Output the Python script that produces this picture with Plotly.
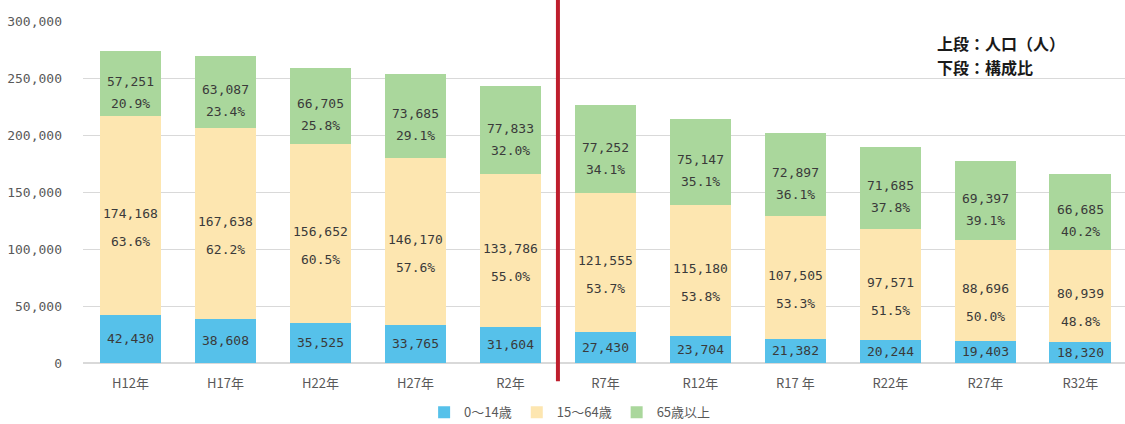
import plotly.graph_objects as go

categories = ["H12年", "H17年", "H22年", "H27年", "R2年", "R7年", "R12年", "R17 年", "R22年", "R27年", "R32年"]
age_0_14 = [42430, 38608, 35525, 33765, 31604, 27430, 23704, 21382, 20244, 19403, 18320]
age_15_64 = [174168, 167638, 156652, 146170, 133786, 121555, 115180, 107505, 97571, 88696, 80939]
age_65_plus = [57251, 63087, 66705, 73685, 77833, 77252, 75147, 72897, 71685, 69397, 66685]
pct_15_64 = ["63.6%", "62.2%", "60.5%", "57.6%", "55.0%", "53.7%", "53.8%", "53.3%", "51.5%", "50.0%", "48.8%"]
pct_65_plus = ["20.9%", "23.4%", "25.8%", "29.1%", "32.0%", "34.1%", "35.1%", "36.1%", "37.8%", "39.1%", "40.2%"]
series_names = ["0～14歳", "15～64歳", "65歳以上"]
colors = ["#56C1EA", "#FDE6B0", "#AAD79C"]

LABEL_FONT = dict(family="DejaVu Sans Mono", size=13, color="#3a3a3a")
CJK = "Noto Sans CJK JP"


def fmt(v):
    return f"{v:,}"


fig = go.Figure()
for vals, name, col in zip([age_0_14, age_15_64, age_65_plus], series_names, colors):
    fig.add_trace(go.Bar(x=categories, y=vals, name=name, marker_color=col,
                         marker_line_width=0, hoverinfo="skip"))

# segment labels placed through the data axes
for i, cat in enumerate(categories):
    b1 = age_0_14[i]
    b2 = b1 + age_15_64[i]
    b3 = b2 + age_65_plus[i]
    fig.add_annotation(x=cat, y=b1 / 2, text=fmt(age_0_14[i]), showarrow=False, font=LABEL_FONT)
    fig.add_annotation(x=cat, y=(b1 + b2) / 2, text=fmt(age_15_64[i]), showarrow=False,
                       font=LABEL_FONT, yshift=2)
    fig.add_annotation(x=cat, y=(b1 + b2) / 2, text=pct_15_64[i], showarrow=False,
                       font=LABEL_FONT, yshift=-26)
    fig.add_annotation(x=cat, y=(b2 + b3) / 2, text=fmt(age_65_plus[i]), showarrow=False,
                       font=LABEL_FONT, yshift=2)
    fig.add_annotation(x=cat, y=(b2 + b3) / 2, text=pct_65_plus[i], showarrow=False,
                       font=LABEL_FONT, yshift=-20)

fig.add_shape(type="line", xref="x", yref="paper", x0=4.5, x1=4.5, y0=-0.053, y1=1.065,
              line=dict(color="#BE1E2D", width=4))

note_font = dict(family=CJK, size=16, color="#1a1a1a")
fig.add_annotation(xref="paper", yref="paper", x=0.818, y=0.936, xanchor="left", yanchor="middle",
                   text="<b>上段：人口（人）</b>", showarrow=False, font=note_font)
fig.add_annotation(xref="paper", yref="paper", x=0.818, y=0.865, xanchor="left", yanchor="middle",
                   text="<b>下段：構成比</b>", showarrow=False, font=note_font)

fig.update_layout(
    barmode="stack", bargap=0.35, width=1125, height=424,
    margin=dict(l=83, r=0, t=21, b=61, autoexpand=False),
    plot_bgcolor="white", paper_bgcolor="white",
    font=dict(family=CJK, size=13, color="#595959"),
    showlegend=True,
    legend=dict(orientation="h", x=0.467, xanchor="center", y=-0.1, yanchor="top",
                font=dict(family=CJK, size=13, color="#595959"),
                itemwidth=30, traceorder="normal"),
    xaxis=dict(showgrid=False, showline=False, ticks="", range=[-0.5, 10.47],
               ticklabelstandoff=11,
               tickfont=dict(family=CJK, size=13, color="#595959")),
    yaxis=dict(range=[0, 300000], dtick=50000, tickformat=",", showgrid=True, gridcolor="#D9D9D9",
               zeroline=True, zerolinecolor="#D9D9D9", ticks="", ticklabelstandoff=20,
               tickfont=dict(family="DejaVu Sans Mono", size=13, color="#595959")),
)

fig.write_html("out.html", config={"displayModeBar": False},
               post_script="document.body.style.margin='0';document.body.style.overflow='hidden';")
